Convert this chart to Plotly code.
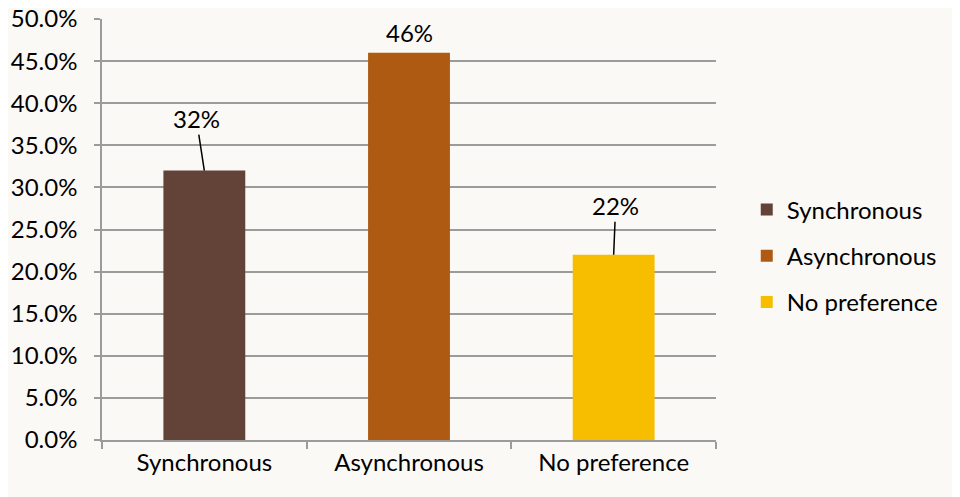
import plotly.graph_objects as go

categories = ["Synchronous", "Asynchronous", "No preference"]
values = [0.32, 0.46, 0.22]
labels = ["32%", "46%", "22%"]
colors = ["#634238", "#AE5A13", "#F7BE00"]
# label offsets (pixels) for data-label leader lines
label_dx = [-8, 0, 2]
label_dy = [-52, -20, -49]

FONT = "Lato, Open Sans, sans-serif"
FS = 24

fig = go.Figure()
for i, (c, v, col) in enumerate(zip(categories, values, colors)):
    fig.add_trace(go.Bar(
        x=[c], y=[v], name=c, marker=dict(color=col, line=dict(width=0)),
        width=0.4, legendgroup=f"g{i}", showlegend=True,
    ))

annotations = []
for c, v, lab, dx, dy in zip(categories, values, labels, label_dx, label_dy):
    show_arrow = abs(dy) > 30
    annotations.append(dict(
        x=c, y=v, xref="x", yref="y", text=lab,
        showarrow=True, arrowhead=0, arrowwidth=1.5,
        arrowcolor="#000000" if show_arrow else "rgba(0,0,0,0)",
        ax=dx, ay=dy, standoff=0,
        font=dict(family=FONT, size=FS, color="#000000"),
    ))

fig.update_layout(
    width=952, height=489,
    margin=dict(l=94, r=244, t=11, b=57, autoexpand=False),
    paper_bgcolor="#FBF9F5", plot_bgcolor="rgba(0,0,0,0)",
    barmode="overlay",
    font=dict(family=FONT, size=FS, color="#000000"),
    showlegend=True,
    legend=dict(xref="container", yref="container", x=0.776, y=0.493,
                yanchor="middle", xanchor="left", itemwidth=30,
                font=dict(family=FONT, size=FS), tracegroupgap=12,
                bgcolor="rgba(0,0,0,0)"),
    annotations=annotations,
    xaxis=dict(
        type="category", categoryorder="array", categoryarray=categories,
        showline=True, linecolor="#9B9B9B", linewidth=1.5,
        ticks="outside", tickson="boundaries", ticklen=7, tickcolor="#9B9B9B", tickwidth=1.5,
        showgrid=False, tickfont=dict(family=FONT, size=FS),
    ),
    yaxis=dict(
        range=[0, 0.5], dtick=0.05, tickformat=".1%",
        showline=True, linecolor="#9B9B9B", linewidth=1.5,
        ticks="outside", ticklen=6, tickcolor="#9B9B9B", tickwidth=1.5,
        showgrid=True, gridcolor="#9B9B9B", gridwidth=1.5,
        zeroline=False, tickfont=dict(family=FONT, size=FS),
        ticklabelstandoff=12, ticklabeloverflow="allow",
    ),
)

fig.write_html("out.html")
